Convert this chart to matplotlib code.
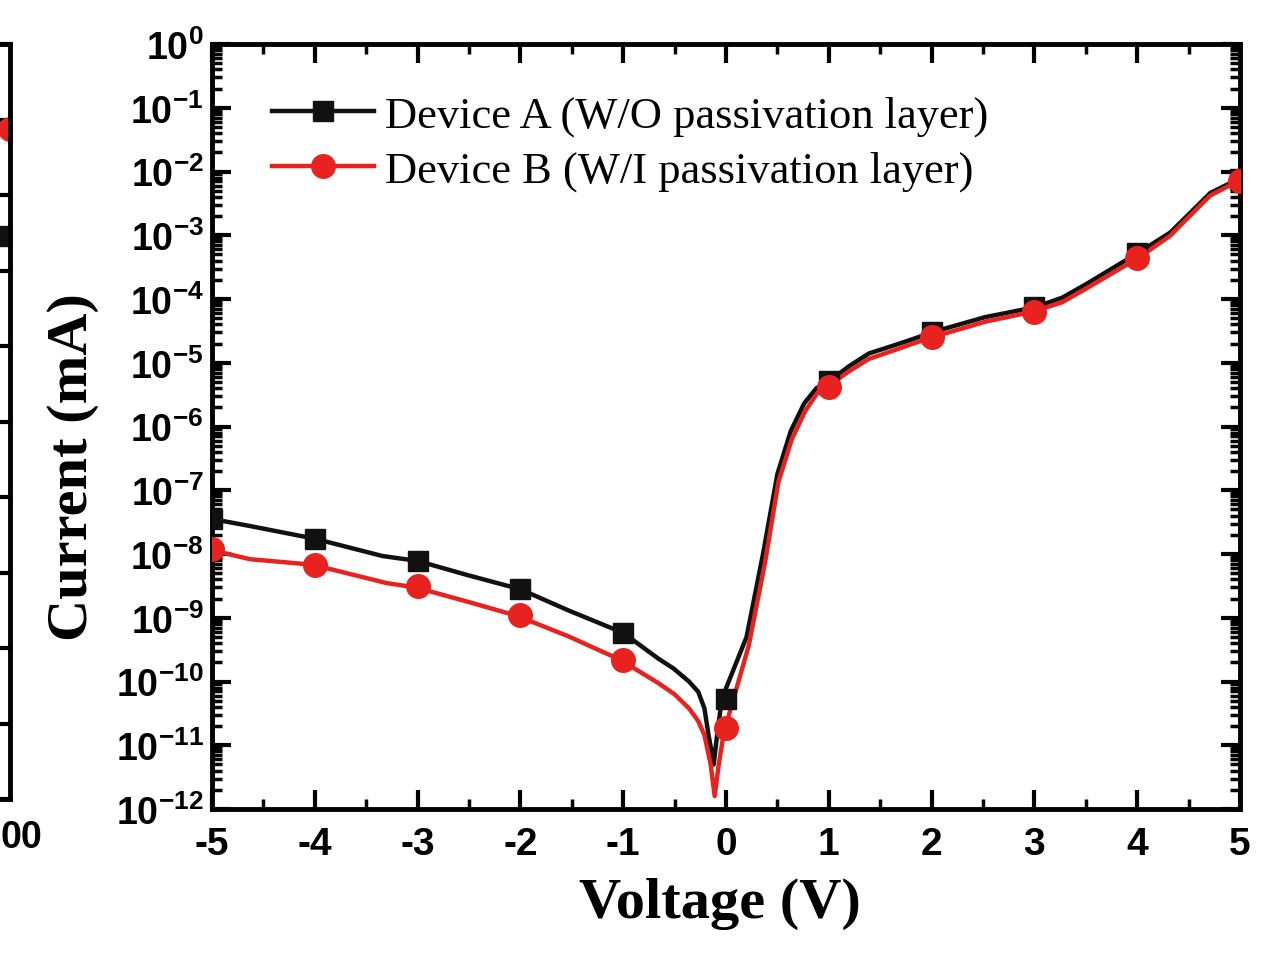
import matplotlib
matplotlib.use("Agg")
import matplotlib.pyplot as plt
from matplotlib.ticker import LogLocator, MultipleLocator, NullFormatter


# marker points (V, mA)
marker_v = [-5, -4, -3, -2, -1, 0, 1, 2, 3, 4, 5]
marker_a = [3.55e-8, 1.74e-8, 7.8e-9, 2.8e-9, 5.8e-10, 5.4e-11,
            5.1e-6, 3.0e-5, 7.4e-5, 5.2e-4, 7.6e-3]
marker_b = [1.2e-8, 6.8e-9, 3.2e-9, 1.1e-9, 2.2e-10, 1.9e-11,
            4.2e-6, 2.5e-5, 6.3e-5, 4.4e-4, 7.1e-3]

# traced curves
curve_a_v = [-5, -4.63, -4.0, -3.34, -3.0, -2.52, -2.0, -1.53, -1.0, -0.66, -0.51,
             -0.36, -0.27, -0.21, -0.17, -0.14, -0.12, -0.09, -0.04, 0.2, 0.36, 0.5,
             0.63, 0.76, 0.88, 1.0, 1.2, 1.39, 1.6, 1.8, 2.0, 2.52, 3.0, 3.27, 3.5,
             4.0, 4.32, 4.51, 4.71, 4.96, 5.0]
curve_a_i = [3.55e-8, 2.75e-8, 1.74e-8, 9.3e-9, 7.8e-9, 4.7e-9, 2.8e-9, 1.3e-9,
             5.8e-10, 2.3e-10, 1.6e-10, 1.0e-10, 6.9e-11, 3.8e-11, 1.45e-11, 8e-12,
             5e-12, 1.3e-11, 5.4e-11, 5.0e-10, 1.0e-8, 1.8e-7, 8.5e-7, 2.3e-6, 4.0e-6,
             5.1e-6, 8.9e-6, 1.4e-5, 1.8e-5, 2.3e-5, 3.0e-5, 5.2e-5, 7.4e-5, 1.05e-4,
             1.7e-4, 5.2e-4, 1.1e-3, 2.2e-3, 4.6e-3, 7.3e-3, 7.6e-3]

curve_b_v = [-5, -4.63, -4.02, -3.3, -3.02, -2.52, -2.03, -1.53, -1.03, -0.66, -0.5,
             -0.36, -0.27, -0.21, -0.15, -0.11, -0.07, -0.02, 0.22, 0.38, 0.51, 0.64,
             0.77, 0.88, 1.0, 1.2, 1.39, 1.6, 1.8, 2.0, 2.52, 2.98, 3.27, 3.5, 4.0,
             4.32, 4.51, 4.71, 4.96, 5.0]
curve_b_i = [1.15e-8, 8.3e-9, 6.8e-9, 3.5e-9, 3.0e-9, 1.8e-9, 1.07e-9, 5.1e-10,
             2.2e-10, 9.5e-11, 6.3e-11, 3.8e-11, 2.4e-11, 1.45e-11, 5.1e-12, 1.6e-12,
             5.1e-12, 1.6e-11, 3.6e-10, 7.4e-9, 1.35e-7, 6.3e-7, 1.74e-6, 3.2e-6,
             4.4e-6, 7.4e-6, 1.15e-5, 1.5e-5, 1.95e-5, 2.5e-5, 4.4e-5, 6.3e-5, 8.9e-5,
             1.45e-4, 4.3e-4, 9.8e-4, 2.0e-3, 4.2e-3, 6.8e-3, 7.1e-3]

labels = ["Device A (W/O passivation layer)", "Device B (W/I passivation layer)"]
x_ticks = [-5, -4, -3, -2, -1, 0, 1, 2, 3, 4, 5]

# sliver of the neighbouring panel on the left edge
side_a = 7.46
side_b = 8.87

BLACK = "#111111"
RED = "#e8231f"

plt.rcParams["mathtext.fontset"] = "custom"
plt.rcParams["mathtext.rm"] = "Liberation Sans:bold"
plt.rcParams["mathtext.it"] = "Liberation Sans:bold"
plt.rcParams["mathtext.bf"] = "Liberation Sans:bold"

fig = plt.figure(figsize=(12.87, 9.54), dpi=100)

# left neighbour panel (mostly off the figure)
side = fig.add_axes([-0.292, 0.1614, 0.3, 0.7914])
side.set_xlim(0, 1000)
side.set_ylim(0, 10)
side.plot([1000], [side_b], "o", color=RED, markersize=17)
side.plot([1000], [side_a], "s", color=BLACK, markersize=14)
side.set_xticks([])
side.yaxis.set_major_locator(MultipleLocator(1))
side.tick_params(axis="y", which="both", left=False, right=True, direction="in",
                 length=12, width=3, labelleft=False)
for sp in side.spines.values():
    sp.set_linewidth(3.5)
fig.text(0.0, 1 - 838 / 954, "00", ha="left", va="center",
         fontfamily="Liberation Sans", fontweight="bold", fontsize=27)

ax = fig.add_axes([0.1647, 0.1509, 0.7988, 0.8019])
ax.plot(curve_a_v, curve_a_i, color=BLACK, linewidth=3.2, zorder=3)
ax.plot(curve_b_v, curve_b_i, color=RED, linewidth=3.2, zorder=4)
ax.plot(marker_v, marker_a, "s", color=BLACK, markersize=14, zorder=5)
ax.plot(marker_v, marker_b, "o", color=RED, markersize=17, zorder=6)

# legend handles
ax.plot([], [], "-s", color=BLACK, linewidth=3.2, markersize=14, label=labels[0])
ax.plot([], [], "-o", color=RED, linewidth=3.2, markersize=17, label=labels[1])
ax.legend(loc="upper left", bbox_to_anchor=(0.019, 0.985), frameon=False,
          handlelength=2.3, handletextpad=0.25, labelspacing=0.32,
          prop={"family": "Liberation Serif", "size": 32})

ax.set_yscale("log")
ax.set_xlim(-5, 5)
ax.set_ylim(1e-12, 1)
ax.yaxis.set_minor_locator(LogLocator(base=10, subs=range(2, 10), numticks=20))
ax.yaxis.set_minor_formatter(NullFormatter())
ax.set_yticks([10.0 ** k for k in range(-12, 1)])
ax.set_yticklabels([r"$10^{%d}$" % k for k in range(-12, 1)], fontsize=27)

ax.set_xticks(x_ticks)
ax.set_xticklabels([str(v) for v in x_ticks], fontfamily="Liberation Sans",
                   fontweight="bold", fontsize=28)
ax.xaxis.set_minor_locator(MultipleLocator(0.5))

ax.tick_params(which="major", direction="in", length=14, width=3,
               top=True, right=True)
ax.tick_params(which="minor", direction="in", length=7, width=2.5,
               top=True, right=True)
ax.tick_params(axis="x", pad=12)
ax.tick_params(axis="y", pad=6)
for sp in ax.spines.values():
    sp.set_linewidth(3.5)

ax.set_xlabel("Voltage (V)", fontfamily="Liberation Serif", fontweight="bold",
              fontsize=42)
ax.xaxis.set_label_coords(0.494, -0.088)
ax.set_ylabel("Current (mA)", fontfamily="Liberation Serif", fontweight="bold",
              fontsize=42)
ax.yaxis.set_label_coords(-0.11, 0.448)

fig.savefig("out.png", dpi=100)
